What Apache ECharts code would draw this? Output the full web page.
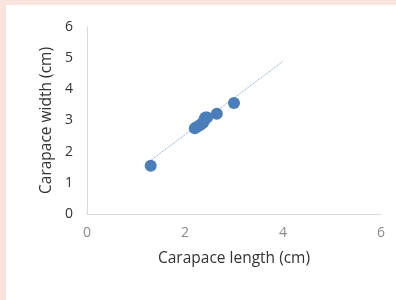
<!DOCTYPE html>
<html lang="en">
<head>
    <meta charset="UTF-8">
    <title>Carapace</title>
    <script src="https://cdn.jsdelivr.net/npm/echarts@6/dist/echarts.min.js"></script>
    <style>
        html, body { margin: 0; padding: 0; background: #f7e4dc; }
        #main { position: absolute; left: 6px; top: 5px; width: 390px; height: 295px; background: #fff; }
    </style>
</head>
<body>
    <div id="main"></div>
    <script type="text/javascript">
        // measured points (length, width)
        var lengths = [1.3, 2.2, 2.25, 2.3, 2.35, 2.38, 2.4, 2.42, 2.45, 2.65, 3.0];
        var widths = [1.55, 2.75, 2.8, 2.85, 2.9, 2.95, 3.05, 3.1, 3.1, 3.22, 3.56];
        // linear trend line end points
        var trendX = [1.3, 4.0];
        var trendY = [1.72, 4.9];

        var pointColor = '#4a7ebb';
        var font = 'Open Sans';

        var points = [];
        for (var i = 0; i < lengths.length; i++) {
            points.push([lengths[i], widths[i]]);
        }
        var trend = [];
        for (var j = 0; j < trendX.length; j++) {
            trend.push([trendX[j], trendY[j]]);
        }

        var myChart = echarts.init(document.getElementById('main'));
        myChart.setOption({
            animation: false,
            grid: { left: 81, top: 22, right: 15, bottom: 86 },
            xAxis: {
                type: 'value',
                min: 0, max: 6, interval: 2,
                name: 'Carapace length (cm)',
                nameLocation: 'middle',
                nameGap: 37,
                nameTextStyle: { color: '#333', fontSize: 15.5, fontFamily: font },
                axisLine: { lineStyle: { color: '#d9d9d9' } },
                axisTick: { show: false },
                splitLine: { show: false },
                axisLabel: { color: '#8a8a8a', fontSize: 14, fontFamily: font, margin: 12 }
            },
            yAxis: {
                type: 'value',
                min: 0, max: 6, interval: 1,
                name: 'Carapace width (cm)',
                nameLocation: 'middle',
                nameGap: 28,
                nameTextStyle: { color: '#333', fontSize: 15.5, fontFamily: font },
                axisLine: { show: true, lineStyle: { color: '#d9d9d9' } },
                axisTick: { show: false },
                splitLine: { show: false },
                axisLabel: { color: '#333', fontSize: 14, fontFamily: font, margin: 14 }
            },
            series: [
                {
                    type: 'line',
                    data: trend,
                    showSymbol: false,
                    lineStyle: { color: '#6f9ad6', width: 1, type: 'dotted' },
                    z: 1
                },
                {
                    type: 'scatter',
                    data: points,
                    symbolSize: 12,
                    itemStyle: { color: pointColor, opacity: 1 },
                    z: 2
                }
            ]
        });
    </script>
</body>
</html>
